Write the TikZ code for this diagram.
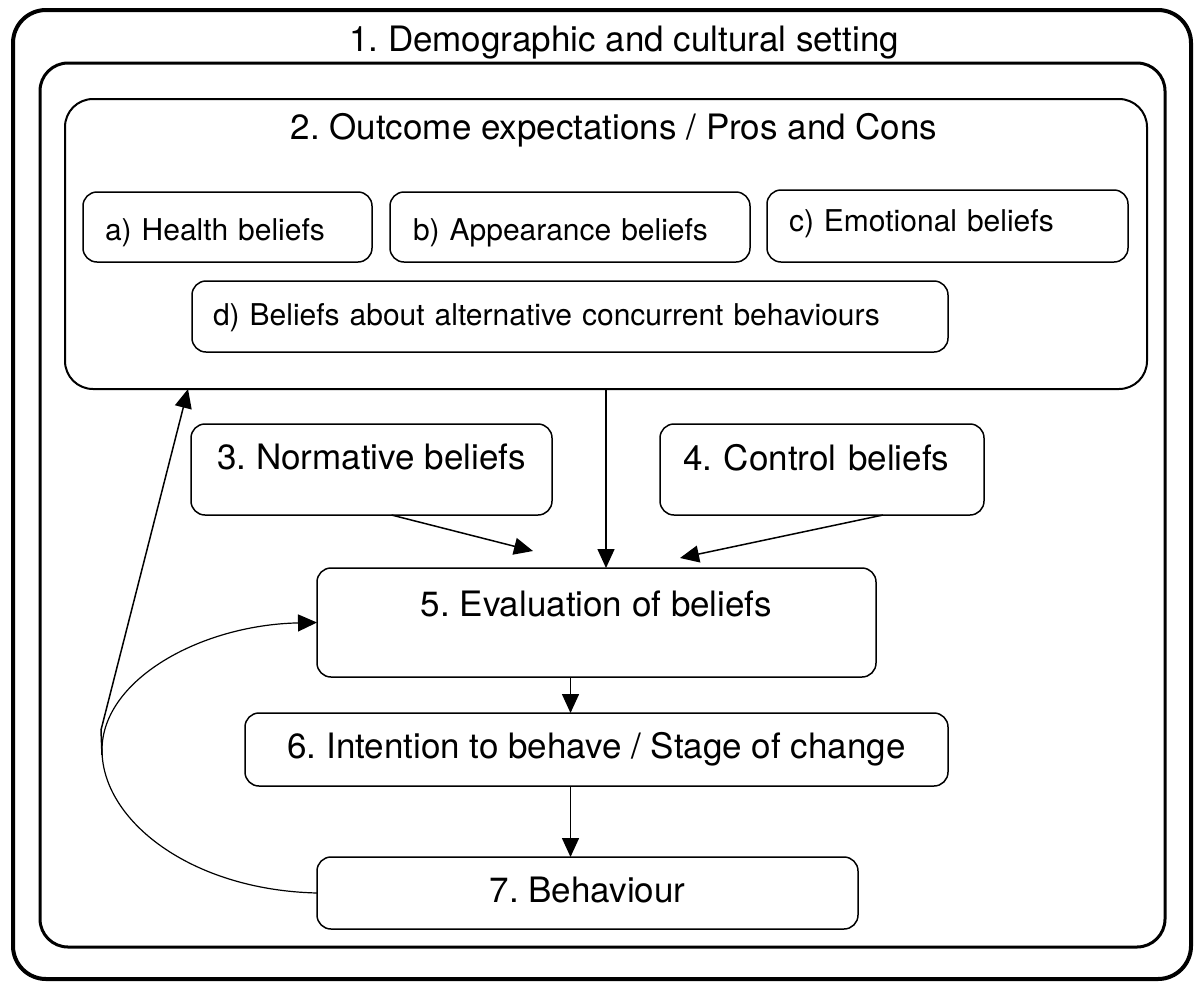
\documentclass[tikz,border=0pt]{standalone}
\usepackage{fontspec}
\setmainfont{TeX Gyre Heros}
\usetikzlibrary{arrows.meta}
\frenchspacing
\begin{document}
\begin{tikzpicture}[x=1pt,y=-1pt]
      \tikzstyle{frame}=[draw,inner sep=0,outer sep=0,anchor=north west]
      \tikzstyle{box}=[draw,line width=1.5pt,rounded corners=14pt,inner ysep=0,inner xsep=0,outer sep=0,anchor=north west,font=\fontsize{35}{40}\selectfont]
      \tikzstyle{sub box}=[box,align=left,font=\fontsize{30}{36}\selectfont]
      \tikzstyle{arr}=[line width=1.5pt,-{Triangle[length=19pt,width=17pt]}]
      \useasboundingbox (0,0) rectangle (1194,983);
      % frames
      \node(f1)[frame,line width=4pt,rounded corners=33pt,minimum width=1178pt,minimum height=969pt] at (13,10) {};
      \node(f2)[frame,line width=3pt,rounded corners=28pt,minimum width=1125pt,minimum height=884pt] at (40,63) {};
      \node(b2)[frame,line width=2pt,rounded corners=28pt,minimum width=1082pt,minimum height=290pt] at (65,99) {};
      \node(t1)[anchor=base,font=\fontsize{35}{40}\selectfont] at (624,51) {1. Demographic and cultural setting};
      \node(t2)[anchor=base,font=\fontsize{35}{40}\selectfont] at (614,139) {2. Outcome expectations / Pros and Cons};
      % beliefs
      \node(a)[sub box,text width=245pt,inner xsep=22pt,text height=48pt,text depth=22pt] at (83,192) {a) Health beliefs};
      \node(b)[sub box,text width=314pt,inner xsep=23pt,text height=48pt,text depth=22pt] at (390,192) {b) Appearance beliefs};
      \node(c)[sub box,text width=317pt,inner xsep=22pt,text height=41pt,text depth=31pt] at (767,190) {c) Emotional beliefs};
      \node(d)[sub box,text width=714pt,inner xsep=21pt,text height=44pt,text depth=27pt] at (192,281) {d) Beliefs about alternative concurrent behaviours};
      \node(n3)[box,minimum width=361pt,text height=45pt,text depth=46pt] at (191,424) {3. Normative beliefs};
      \node(n4)[box,align=left,text width=278pt,inner xsep=23pt,text height=46pt,text depth=45pt] at (660,424) {4. Control beliefs};
      \node(n5)[box,minimum width=559pt,text height=48pt,text depth=61pt] at (317,568) {5. Evaluation of beliefs};
      \node(n6)[box,minimum width=703pt,text height=45pt,text depth=28pt] at (245,713) {6. Intention to behave / Stage of change};
      \node(n7)[box,minimum width=541pt,text height=45pt,text depth=27pt] at (317,857) {7. Behaviour};
      % arrows
      \coordinate (e3) at (533,551);
      \coordinate (e4) at (680,558);
      \coordinate (s5) at ([xshift=-26pt]n5.south);
      \coordinate (s6) at ([xshift=-26pt]n6.south);
      \coordinate (k1) at (102,755);
      \coordinate (k2) at (101,730);
      \coordinate (bend) at (102,750);
      \draw[arr] (b2.south) -- (b2.south |- n5.north);
      \draw[arr] ([xshift=20pt]n3.south) -- (e3);
      \draw[arr] ([xshift=61pt]n4.south) -- (e4);
      \draw[arr] (s5) -- (s5 |- n6.north);
      \draw[arr] (s6) -- (s6 |- n7.north);
      \draw[arr] (k1) -- (k2) -- ([xshift=123pt]b2.south west);
      \draw[arr,line width=1.2pt] (n7.west) .. controls (190,890) and (102,820) .. (bend) .. controls (102,680) and (200,625) .. (n5.west);
\end{tikzpicture}
\end{document}
